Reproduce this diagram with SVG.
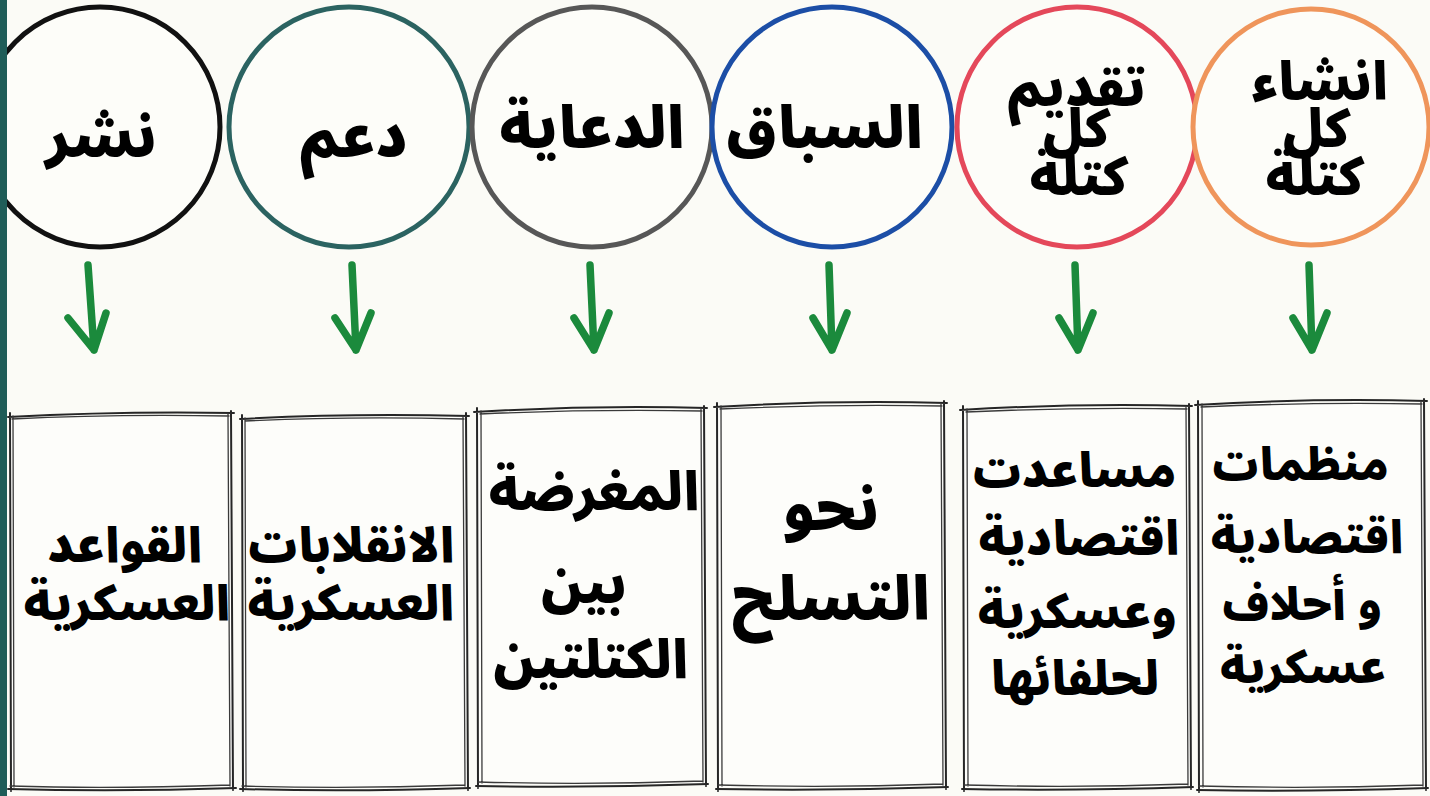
<svg xmlns="http://www.w3.org/2000/svg" width="1430" height="796" viewBox="0 0 1430 796">
<defs>
<style>
.bg{fill:#fbfbf6}
.ring{fill:#fdfdf9;stroke-width:5}
.lbl{font-family:"Noto Sans Arabic","DejaVu Sans","Noto Sans",sans-serif;font-weight:900;fill:#000;text-anchor:middle}
.c{font-size:58px}
.c3{font-size:52px}
.b1{font-size:48px}
.b3{font-size:53px}
.b4{font-size:60px}
.b5{font-size:47px}
.b6{font-size:45px}
.arr{fill:none;stroke:#1b8a3c;stroke-width:7.5;stroke-linecap:round;stroke-linejoin:round}
.sk{fill:none;stroke:#262626;stroke-width:2;stroke-linecap:round}
.sk2{fill:none;stroke:#3a3a3a;stroke-width:1.3;stroke-linecap:round}
.pg{fill:#fdfdfa}
</style>
</defs>
<rect class="bg" x="0" y="0" width="1430" height="796"/>

<g id="node-nashr">
<circle class="ring" cx="100" cy="127" r="120" stroke="#111"/>
<text class="lbl c" x="101" y="157" direction="rtl">نشر</text>
</g>
<g id="node-daam">
<circle class="ring" cx="349" cy="127" r="120" stroke="#2b6361"/>
<text class="lbl c" x="354" y="157" direction="rtl">دعم</text>
</g>
<g id="node-diaya">
<circle class="ring" cx="592" cy="127" r="120" stroke="#575757"/>
<text class="lbl c" x="592" y="148" direction="rtl">الدعاية</text>
</g>
<g id="node-sibaq">
<circle class="ring" cx="832" cy="127" r="120" stroke="#1c4ea6"/>
<text class="lbl c" x="825" y="148" direction="rtl">السباق</text>
</g>
<g id="node-taqdim">
<circle class="ring" cx="1077" cy="127" r="120" stroke="#e4485a"/>
<text class="lbl c3" x="1077" y="106" direction="rtl">تقديم</text>
<text class="lbl c3" x="1077" y="147" direction="rtl">كل</text>
<text class="lbl c3" x="1079" y="195" direction="rtl">كتلة</text>
</g>
<g id="node-inshaa">
<circle class="ring" cx="1311" cy="127" r="118" stroke="#ef955b"/>
<text class="lbl c3" x="1320" y="100" direction="rtl">انشاء</text>
<text class="lbl c3" x="1317" y="147" direction="rtl">كل</text>
<text class="lbl c3" x="1315" y="195" direction="rtl">كتلة</text>
</g>

<rect x="0" y="0" width="7" height="796" fill="#1f5d58"/>

<g id="connectors">
<path class="arr" d="M88,265 L94,350 M68,318 L94,350 L106,313"/>
<path class="arr" d="M352,265 L356,350 M335,318 L356,350 L371,313"/>
<path class="arr" d="M590,265 L594,350 M574,318 L594,350 L609,313"/>
<path class="arr" d="M829,265 L832,350 M813,318 L832,350 L847,313"/>
<path class="arr" d="M1075,265 L1078,350 M1059,318 L1078,350 L1093,313"/>
<path class="arr" d="M1309,265 L1312,350 M1293,318 L1312,350 L1327,313"/>
</g>

<g id="box-qawaid">
<rect class="pg" x="10" y="415" width="222" height="373"/>
<path class="sk" d="M8,417 Q120,411 234,413 M231,411 L233,790 M236,788 Q120,792 8,789 M11,791 L10,413"/>
<path class="sk2" d="M12,419 Q110,414 229,416 M228,414 L230,786 M230,785 Q110,789 10,786 M14,787 L13,416"/>
<text class="lbl b1" x="125" y="562" direction="rtl">القواعد</text>
<text class="lbl b1" x="127" y="620" direction="rtl">العسكرية</text>
</g>
<g id="box-inqilabat">
<rect class="pg" x="242" y="417" width="225" height="371"/>
<path class="sk" d="M240,419 Q350,413 469,416 M466,413 L468,790 M470,788 Q350,792 240,789 M243,791 L242,415"/>
<path class="sk2" d="M245,421 Q350,416 464,419 M463,416 L465,786 M465,785 Q350,789 242,786 M246,787 L245,418"/>
<text class="lbl b1" x="351" y="562" direction="rtl">الانقلابات</text>
<text class="lbl b1" x="351" y="620" direction="rtl">العسكرية</text>
</g>
<g id="box-mughrida">
<rect class="pg" x="477" y="410" width="228" height="374"/>
<path class="sk" d="M474,412 Q590,405 707,408 M704,406 L706,786 M708,784 Q590,788 476,786 M478,788 L477,408"/>
<path class="sk2" d="M480,414 Q590,409 702,411 M701,409 L703,782 M703,781 Q590,785 478,782 M482,783 L481,411"/>
<text class="lbl b3" x="594" y="510" direction="rtl">المغرضة</text>
<text class="lbl b3" x="584" y="603" direction="rtl">بين</text>
<text class="lbl b3" x="591" y="678" direction="rtl">الكتلتين</text>
</g>
<g id="box-tasalluh">
<rect class="pg" x="717" y="405" width="228" height="382"/>
<path class="sk" d="M714,407 Q830,400 947,403 M944,401 L946,789 M948,787 Q830,791 716,789 M718,791 L717,403"/>
<path class="sk2" d="M720,409 Q830,404 942,406 M941,404 L943,785 M943,784 Q830,788 718,785 M722,786 L721,406"/>
<text class="lbl b4" x="831" y="530" direction="rtl">نحو</text>
<text class="lbl b4" x="831" y="620" direction="rtl">التسلح</text>
</g>
<g id="box-musaadat">
<rect class="pg" x="963" y="408" width="227" height="379"/>
<path class="sk" d="M960,410 Q1075,403 1192,406 M1189,404 L1191,789 M1193,787 Q1075,791 962,789 M964,791 L963,406"/>
<path class="sk2" d="M966,412 Q1075,407 1187,409 M1186,407 L1188,785 M1188,784 Q1075,788 964,785 M968,786 L967,409"/>
<text class="lbl b5" x="1074" y="487" direction="rtl">مساعدت</text>
<text class="lbl b5" x="1079" y="555" direction="rtl">اقتصادية</text>
<text class="lbl b5" x="1077" y="628" direction="rtl">وعسكرية</text>
<text class="lbl b5" x="1075" y="695" direction="rtl">لحلفائها</text>
</g>
<g id="box-munazzamat">
<rect class="pg" x="1198" y="403" width="227" height="385"/>
<path class="sk" d="M1195,405 Q1310,398 1427,401 M1424,399 L1426,790 M1428,788 Q1310,792 1197,790 M1199,792 L1198,401"/>
<path class="sk2" d="M1201,407 Q1310,402 1422,404 M1421,402 L1423,786 M1423,785 Q1310,789 1199,786 M1203,787 L1202,404"/>
<text class="lbl b6" x="1300" y="480" direction="rtl">منظمات</text>
<text class="lbl b6" x="1307" y="553" direction="rtl">اقتصادية</text>
<text class="lbl b6" x="1302" y="620" direction="rtl">و أحلاف</text>
<text class="lbl b6" x="1303" y="683" direction="rtl">عسكرية</text>
</g>
</svg>
